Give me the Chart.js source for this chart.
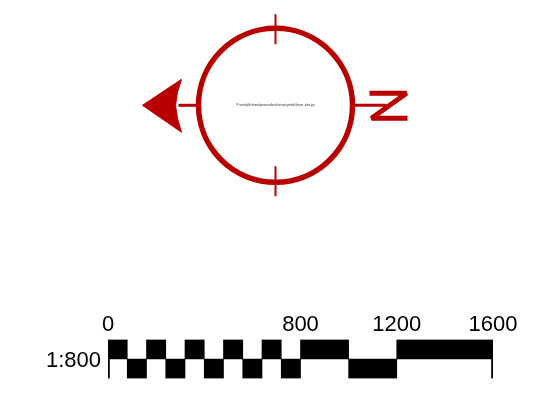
<!DOCTYPE html>
<html>
<head>
<meta charset="utf-8">
<script src="https://cdn.jsdelivr.net/npm/chart.js@4/dist/chart.umd.min.js"></script>
<style>
  body { margin: 0; background: #fff; }
  canvas { position: absolute; left: 0; }
  #compass { top: 0; }
  #scalebar { top: 300px; }
</style>
</head>
<body>
<canvas id="compass" width="553" height="210"></canvas>
<canvas id="scalebar" width="553" height="102"></canvas>
<script>
// north arrow, x and y measured from the middle of the ring
var ringCentre = [{x: 0, y: 0}];
var northTick = [{x: 0, y: 91}, {x: 0, y: 61}];
var southTick = [{x: 0, y: -61}, {x: 0, y: -91}];
var westStem = [{x: -97, y: 0}, {x: -78, y: 0}];
var eastStem = [{x: 77, y: 0}, {x: 111, y: 0}];
var arrowHead = [{x: -133, y: 0}, {x: -94, y: 26}, {x: -98, y: 13}, {x: -100, y: 0}, {x: -98, y: -13}, {x: -94, y: -27}, {x: -133, y: 0}];
var northLetter = [{x: 94, y: 12}, {x: 131, y: 12}, {x: 96, y: -13}, {x: 132, y: -13}];
var fileName = 'P:\\rooting\\fileformat\\generated\\north\\arrow\\symbols\\brown_plate.jpg';

// scale bar, in map units
var scaleTicks = [0, 800, 1200, 1600];
var scaleLabel = '1:800';
var upperBlocks = [[0, 80], [160, 240], [320, 400], [480, 560], [640, 720], [800, 1000], [1200, 1600]];
var lowerBlocks = [[80, 160], [240, 320], [400, 480], [560, 640], [720, 800], [1000, 1200]];
var endMarks = [[0, 6], [1594, 1600]];

var red = '#b80000';

function lineSet(points, width) {
    return {
        data: points,
        showLine: true,
        borderColor: red,
        borderWidth: width,
        pointRadius: 0,
        fill: false
    };
}

function blockSet(blocks, row) {
    return {
        data: blocks.map(function (b) { return {x: b, y: row}; }),
        grouped: false,
        barThickness: 19.5,
        backgroundColor: '#000',
        borderWidth: 0
    };
}

// arrow head fill (the filler plugin skips closed outlines) and the small path text
var compassExtras = {
    id: 'compassExtras',
    afterDatasetsDraw: function (chart) {
        var c = chart.ctx;
        var sx = chart.scales.x;
        var sy = chart.scales.y;
        c.save();
        c.fillStyle = red;
        c.beginPath();
        arrowHead.forEach(function (p) {
            c.lineTo(sx.getPixelForValue(p.x), sy.getPixelForValue(p.y));
        });
        c.closePath();
        c.fill();
        c.font = '2.6px "Liberation Sans"';
        c.fillStyle = '#333';
        c.textAlign = 'center';
        c.textBaseline = 'middle';
        c.fillText(fileName, sx.getPixelForValue(0), sy.getPixelForValue(0));
        c.restore();
    }
};

new Chart(document.getElementById('compass').getContext('2d'), {
    type: 'scatter',
    plugins: [compassExtras],
    data: {
        datasets: [
            {
                data: ringCentre,
                pointRadius: 77,
                pointBorderWidth: 5.5,
                pointBorderColor: red,
                pointBackgroundColor: 'rgba(0,0,0,0)',
                clip: false
            },
            lineSet(northTick, 2),
            lineSet(southTick, 2),
            lineSet(westStem, 3),
            lineSet(eastStem, 3),
            lineSet(arrowHead, 1),
            Object.assign(lineSet(northLetter, 5), {borderJoinStyle: 'bevel'})
        ]
    },
    options: {
        responsive: false,
        animation: false,
        layout: {padding: 0, autoPadding: false},
        plugins: {legend: {display: false}, tooltip: {enabled: false}},
        scales: {
            x: {type: 'linear', display: false, min: -275.5, max: 277.5},
            y: {type: 'linear', display: false, min: -104.7, max: 105.3}
        }
    }
});

new Chart(document.getElementById('scalebar').getContext('2d'), {
    type: 'bar',
    data: {
        datasets: [
            blockSet(upperBlocks, 1.5),
            blockSet(lowerBlocks, 0.5),
            blockSet(endMarks, 0.5)
        ]
    },
    options: {
        indexAxis: 'y',
        responsive: false,
        animation: false,
        layout: {padding: {right: 60, bottom: 23.5}, autoPadding: false},
        plugins: {legend: {display: false}, tooltip: {enabled: false}},
        scales: {
            x: {
                type: 'linear',
                position: 'top',
                min: 0,
                max: 1600,
                afterBuildTicks: function (axis) {
                    axis.ticks = scaleTicks.map(function (v) { return {value: v}; });
                },
                afterFit: function (axis) {
                    axis.height = 39.5;
                    axis.paddingLeft = 0;
                    axis.paddingRight = 0;
                },
                grid: {display: false, drawTicks: false},
                border: {display: false},
                ticks: {
                    padding: 1,
                    maxRotation: 0,
                    autoSkip: false,
                    color: '#000',
                    font: {family: '"Liberation Sans"', size: 22},
                    callback: function (value) { return String(value); }
                }
            },
            y: {
                type: 'linear',
                offset: false, // bar charts turn this on for the index axis
                min: 0,
                max: 2,
                afterBuildTicks: function (axis) {
                    axis.ticks = [{value: 0.9}];
                },
                afterFit: function (axis) {
                    axis.width = 108;
                    axis.paddingTop = 0;
                    axis.paddingBottom = 0;
                },
                grid: {display: false, drawTicks: false},
                border: {display: false},
                ticks: {
                    padding: 7,
                    color: '#000',
                    font: {family: '"Liberation Sans"', size: 22},
                    callback: function () { return scaleLabel; }
                }
            }
        }
    }
});
</script>
</body>
</html>
